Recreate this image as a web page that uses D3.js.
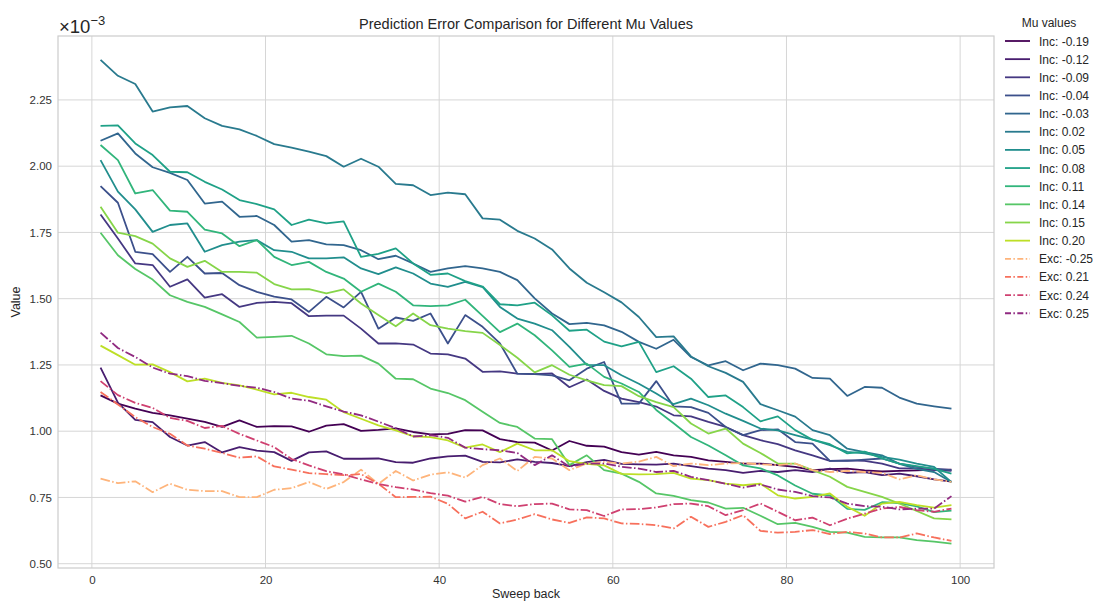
<!DOCTYPE html>
<html>
<head>
<meta charset="utf-8">
<script src="https://cdn.jsdelivr.net/npm/d3@7"></script>
<style>
  body { margin: 0; background: #ffffff; }
  svg { font-family: "Liberation Sans", Arial, "DejaVu Sans", sans-serif; }
</style>
</head>
<body>
<svg id="chart" width="1097" height="601"></svg>
<script>
// ---------------- data ----------------
const sweepBack = [1,3,5,7,9,11,13,15,17,19,21,23,25,27,29,31,33,35,37,39,41,43,45,47,49,
                   51,53,55,57,59,61,63,65,67,69,71,73,75,77,79,81,83,85,87,89,91,93,95,97,99];

const incM019 = [1.135,1.104,1.085,1.069,1.060,1.047,1.035,1.016,1.041,1.016,1.019,
  1.018,0.998,1.021,1.027,1.001,1.005,1.011,0.997,0.988,0.990,
  1.004,1.003,0.970,0.959,0.957,0.927,0.963,0.945,0.942,0.921,0.912,
  0.922,0.909,0.903,0.890,0.884,0.878,0.878,0.872,0.865,0.853,0.857,0.859,0.852,0.848,0.850,0.852,0.855,0.855];
const incM012 = [1.240,1.108,1.043,1.034,0.978,0.946,0.959,0.920,0.940,0.927,0.921,
  0.888,0.920,0.924,0.896,0.896,0.897,0.883,0.881,0.897,0.905,
  0.908,0.884,0.882,0.894,0.884,0.880,0.868,0.883,0.892,0.877,0.875,
  0.874,0.878,0.868,0.859,0.853,0.843,0.850,0.846,0.853,0.846,0.859,0.843,0.846,0.834,0.840,0.830,0.818,0.810];
const incM009 = [1.818,1.727,1.633,1.627,1.545,1.573,1.504,1.517,1.469,1.484,1.488,
  1.483,1.434,1.436,1.436,1.387,1.331,1.331,1.327,1.293,1.290,
  1.274,1.224,1.226,1.217,1.215,1.218,1.166,1.195,1.152,1.123,1.110,
  1.093,1.060,1.056,1.035,1.016,0.985,0.966,0.951,0.928,0.909,0.888,0.890,0.888,0.878,0.860,0.860,0.853,0.850];
const incM004 = [1.925,1.862,1.677,1.668,1.601,1.658,1.595,1.597,1.551,1.526,1.508,
  1.497,1.450,1.507,1.467,1.526,1.387,1.429,1.416,1.444,1.331,
  1.438,1.394,1.331,1.217,1.215,1.211,1.192,1.236,1.261,1.104,1.104,
  1.189,1.094,1.091,1.069,1.016,0.985,1.004,1.007,0.959,0.953,0.888,0.888,0.893,0.897,0.878,0.865,0.859,0.853];
const incM003 = [2.096,2.124,2.048,1.996,1.975,1.948,1.859,1.866,1.809,1.812,1.778,
  1.715,1.721,1.705,1.702,1.683,1.649,1.662,1.633,1.601,1.614,
  1.623,1.614,1.601,1.570,1.501,1.444,1.404,1.409,1.399,1.375,1.337,
  1.311,1.345,1.280,1.248,1.264,1.230,1.255,1.249,1.236,1.201,1.198,1.133,1.167,1.164,1.127,1.104,1.094,1.085];
const incP002 = [2.401,2.341,2.310,2.206,2.222,2.227,2.181,2.152,2.139,2.114,2.083,
  2.070,2.055,2.038,1.998,2.028,1.998,1.933,1.928,1.891,1.900,
  1.894,1.803,1.798,1.756,1.727,1.686,1.614,1.560,1.524,1.486,1.431,
  1.355,1.358,1.282,1.245,1.220,1.186,1.102,1.079,1.055,1.004,0.985,0.934,0.921,0.909,0.877,0.858,0.846,0.808];
const incP005 = [2.023,1.904,1.837,1.752,1.778,1.784,1.677,1.702,1.715,1.721,1.683,
  1.677,1.652,1.652,1.656,1.614,1.593,1.618,1.595,1.557,1.545,
  1.563,1.544,1.469,1.425,1.406,1.381,1.318,1.250,1.249,1.211,1.179,
  1.142,1.102,1.123,1.098,1.066,1.039,1.010,1.003,0.985,0.968,0.947,0.922,0.916,0.903,0.893,0.878,0.865,0.808];
const incP008 = [2.152,2.154,2.086,2.042,1.979,1.977,1.941,1.912,1.872,1.857,1.837,
  1.778,1.798,1.784,1.792,1.658,1.669,1.690,1.633,1.590,1.595,
  1.566,1.546,1.479,1.475,1.485,1.437,1.379,1.383,1.338,1.320,1.337,
  1.223,1.245,1.198,1.129,1.135,1.091,1.037,1.056,1.004,0.968,0.951,0.916,0.923,0.897,0.878,0.868,0.858,0.840];
const incP011 = [2.080,2.023,1.897,1.910,1.832,1.828,1.761,1.746,1.698,1.721,1.658,
  1.627,1.639,1.601,1.576,1.526,1.557,1.526,1.475,1.472,1.475,
  1.496,1.435,1.374,1.406,1.362,1.305,1.243,1.255,1.205,1.180,1.148,
  1.080,1.030,0.978,0.946,0.909,0.871,0.860,0.833,0.795,0.764,0.758,0.707,0.703,0.732,0.729,0.716,0.695,0.700];
const incP014 = [1.749,1.664,1.612,1.572,1.513,1.488,1.469,1.441,1.412,1.353,1.356,
  1.360,1.331,1.290,1.283,1.285,1.255,1.198,1.196,1.161,1.144,
  1.117,1.073,1.031,1.016,0.972,0.970,0.872,0.909,0.853,0.840,0.809,
  0.765,0.756,0.740,0.731,0.708,0.711,0.681,0.649,0.654,0.639,0.620,0.617,0.601,0.599,0.599,0.589,0.583,0.576];
const incP015 = [1.847,1.749,1.736,1.708,1.652,1.620,1.643,1.601,1.601,1.598,1.555,
  1.535,1.536,1.520,1.535,1.482,1.438,1.396,1.444,1.400,1.387,
  1.378,1.371,1.325,1.277,1.222,1.249,1.213,1.192,1.174,1.170,1.132,
  1.110,1.091,1.029,0.991,1.010,0.953,0.918,0.878,0.878,0.853,0.828,0.790,0.771,0.752,0.727,0.699,0.671,0.667];
const incP020 = [1.323,1.287,1.251,1.252,1.223,1.188,1.198,1.182,1.173,1.157,1.139,
  1.145,1.129,1.119,1.072,1.047,1.022,1.003,0.981,0.978,0.965,
  0.938,0.950,0.921,0.953,0.928,0.928,0.887,0.877,0.871,0.839,0.837,
  0.838,0.843,0.821,0.815,0.802,0.796,0.802,0.758,0.746,0.752,0.765,0.715,0.681,0.727,0.733,0.721,0.712,0.721];

const excM025 = [0.821,0.804,0.811,0.770,0.802,0.779,0.774,0.774,0.751,0.751,0.779,
  0.785,0.808,0.782,0.808,0.855,0.801,0.850,0.814,0.836,0.845,
  0.825,0.872,0.897,0.850,0.903,0.897,0.853,0.878,0.884,0.878,0.885,
  0.903,0.868,0.878,0.872,0.878,0.880,0.875,0.872,0.878,0.853,0.846,0.850,0.846,0.843,0.818,0.834,0.818,0.809];
const excP021 = [1.148,1.101,1.053,1.016,0.990,0.946,0.934,0.918,0.900,0.905,0.867,
  0.855,0.842,0.838,0.834,0.838,0.802,0.751,0.752,0.753,0.726,
  0.671,0.696,0.652,0.667,0.687,0.667,0.654,0.675,0.671,0.652,0.650,
  0.645,0.633,0.677,0.639,0.658,0.683,0.624,0.617,0.620,0.627,0.612,0.620,0.614,0.599,0.599,0.614,0.599,0.586];
const excP024 = [1.189,1.136,1.107,1.088,1.050,1.039,1.012,1.020,0.990,0.965,0.940,
  0.895,0.871,0.849,0.837,0.818,0.801,0.789,0.780,0.766,0.757,
  0.734,0.752,0.725,0.717,0.725,0.727,0.705,0.702,0.680,0.705,0.706,
  0.712,0.725,0.727,0.717,0.683,0.702,0.727,0.696,0.664,0.674,0.645,0.670,0.689,0.708,0.714,0.702,0.696,0.708];
const excP025 = [1.372,1.314,1.280,1.240,1.217,1.208,1.190,1.181,1.171,1.164,1.148,
  1.123,1.115,1.094,1.074,1.060,1.036,1.011,0.980,0.985,0.975,
  0.938,0.932,0.928,0.918,0.872,0.909,0.866,0.878,0.878,0.866,0.859,
  0.846,0.850,0.828,0.815,0.802,0.787,0.799,0.780,0.771,0.755,0.750,0.727,0.717,0.715,0.705,0.708,0.708,0.755];

const incLabels = ["Inc: -0.19","Inc: -0.12","Inc: -0.09","Inc: -0.04","Inc: -0.03","Inc: 0.02",
                   "Inc: 0.05","Inc: 0.08","Inc: 0.11","Inc: 0.14","Inc: 0.15","Inc: 0.20"];
const incValues = [incM019,incM012,incM009,incM004,incM003,incP002,incP005,incP008,incP011,incP014,incP015,incP020];
const excLabels = ["Exc: -0.25","Exc: 0.21","Exc: 0.24","Exc: 0.25"];
const excValues = [excM025,excP021,excP024,excP025];

const yTicks = [0.50,0.75,1.00,1.25,1.50,1.75,2.00,2.25];
const xTicks = [0,20,40,60,80,100];

const titleText = "Prediction Error Comparison for Different Mu Values";
const xLabelText = "Sweep back";
const yLabelText = "Value";
const legendTitle = "Mu values";

// ---------------- drawing ----------------
const svg = d3.select("#chart");
const plot = {left: 58, top: 36, right: 994, bottom: 568};

const x = d3.scaleLinear().domain([-3.9, 103.9]).range([plot.left, plot.right]);
const y = d3.scaleLinear().domain([0.4838, 2.4912]).range([plot.bottom, plot.top]);

const series = [];
incLabels.forEach((lab, i) => series.push({label: lab, values: incValues[i],
  color: d3.interpolateViridis(i * 0.9 / 11), dash: null}));
const excT = [0.84, 0.70, 0.56, 0.41];
excLabels.forEach((lab, i) => series.push({label: lab, values: excValues[i],
  color: d3.interpolateMagma(excT[i]), dash: "9.6,2.4,1.5,2.4"}));

// background
svg.append("rect").attr("x", 0).attr("y", 0).attr("width", 1097).attr("height", 601).attr("fill", "#ffffff");

// grid
const gridColor = "#d6d6d6";
svg.append("g").selectAll("line").data(yTicks).join("line")
  .attr("x1", plot.left).attr("x2", plot.right)
  .attr("y1", d => y(d)).attr("y2", d => y(d))
  .attr("stroke", gridColor).attr("stroke-width", 1);
svg.append("g").selectAll("line").data(xTicks).join("line")
  .attr("y1", plot.top).attr("y2", plot.bottom)
  .attr("x1", d => x(d)).attr("x2", d => x(d))
  .attr("stroke", gridColor).attr("stroke-width", 1);

// axes via d3 axis (no tick marks)
const xAxis = d3.axisBottom(x).tickValues(xTicks).tickSize(0).tickPadding(8).tickFormat(d3.format("d"));
const yAxis = d3.axisLeft(y).tickValues(yTicks).tickSize(0).tickPadding(6).tickFormat(d3.format(".2f"));
const gx = svg.append("g").attr("transform", `translate(0,${plot.bottom})`).call(xAxis);
const gy = svg.append("g").attr("transform", `translate(${plot.left},0)`).call(yAxis);
[gx, gy].forEach(g => {
  g.select(".domain").remove();
  g.selectAll("text").attr("font-size", 11.5).attr("fill", "#333333")
    .attr("font-family", "'Liberation Sans', Arial, sans-serif");
});

// frame
svg.append("rect").attr("x", plot.left).attr("y", plot.top)
  .attr("width", plot.right - plot.left).attr("height", plot.bottom - plot.top)
  .attr("fill", "none").attr("stroke", "#cccccc").attr("stroke-width", 1.2);

// lines
const line = d3.line().x((d, i) => x(sweepBack[i])).y(d => y(d));
svg.append("clipPath").attr("id", "clip").append("rect")
  .attr("x", plot.left).attr("y", plot.top).attr("width", plot.right - plot.left).attr("height", plot.bottom - plot.top);
svg.append("g").attr("clip-path", "url(#clip)").selectAll("path").data(series).join("path")
  .attr("d", s => line(s.values))
  .attr("fill", "none")
  .attr("stroke", s => s.color)
  .attr("stroke-width", 1.8)
  .attr("stroke-linejoin", "round")
  .attr("stroke-dasharray", s => s.dash);

// title
svg.append("text").attr("x", (plot.left + plot.right) / 2).attr("y", 29)
  .attr("text-anchor", "middle").attr("font-size", 14.5).attr("fill", "#262626").text(titleText);

// offset text ×10^-3
const off = svg.append("text").attr("x", 59).attr("y", 33).attr("font-size", 18.5).attr("fill", "#262626");
off.append("tspan").text("×10");
off.append("tspan").attr("dy", -8.5).attr("font-size", 13).text("−3");

// axis labels
svg.append("text").attr("x", (plot.left + plot.right) / 2).attr("y", 598)
  .attr("text-anchor", "middle").attr("font-size", 12.5).attr("fill", "#262626").text(xLabelText);
svg.append("text").attr("transform", `translate(20,${(plot.top + plot.bottom) / 2}) rotate(-90)`)
  .attr("text-anchor", "middle").attr("font-size", 12.5).attr("fill", "#262626").text(yLabelText);

// legend
const lg = svg.append("g");
lg.append("text").attr("x", 1049).attr("y", 27).attr("text-anchor", "middle")
  .attr("font-size", 12).attr("fill", "#262626").text(legendTitle);
const items = lg.selectAll("g.item").data(series).join("g").attr("class", "item")
  .attr("transform", (d, i) => `translate(0,${41 + i * 18.15})`);
items.append("line").attr("x1", 1005).attr("x2", 1030).attr("y1", 0).attr("y2", 0)
  .attr("stroke", d => d.color).attr("stroke-width", 1.8).attr("stroke-dasharray", d => d.dash ? "6,2.4,1.5,2.4" : null);
items.append("text").attr("x", 1039).attr("y", 4.5).attr("font-size", 12).attr("fill", "#262626").text(d => d.label);
</script>
</body>
</html>
